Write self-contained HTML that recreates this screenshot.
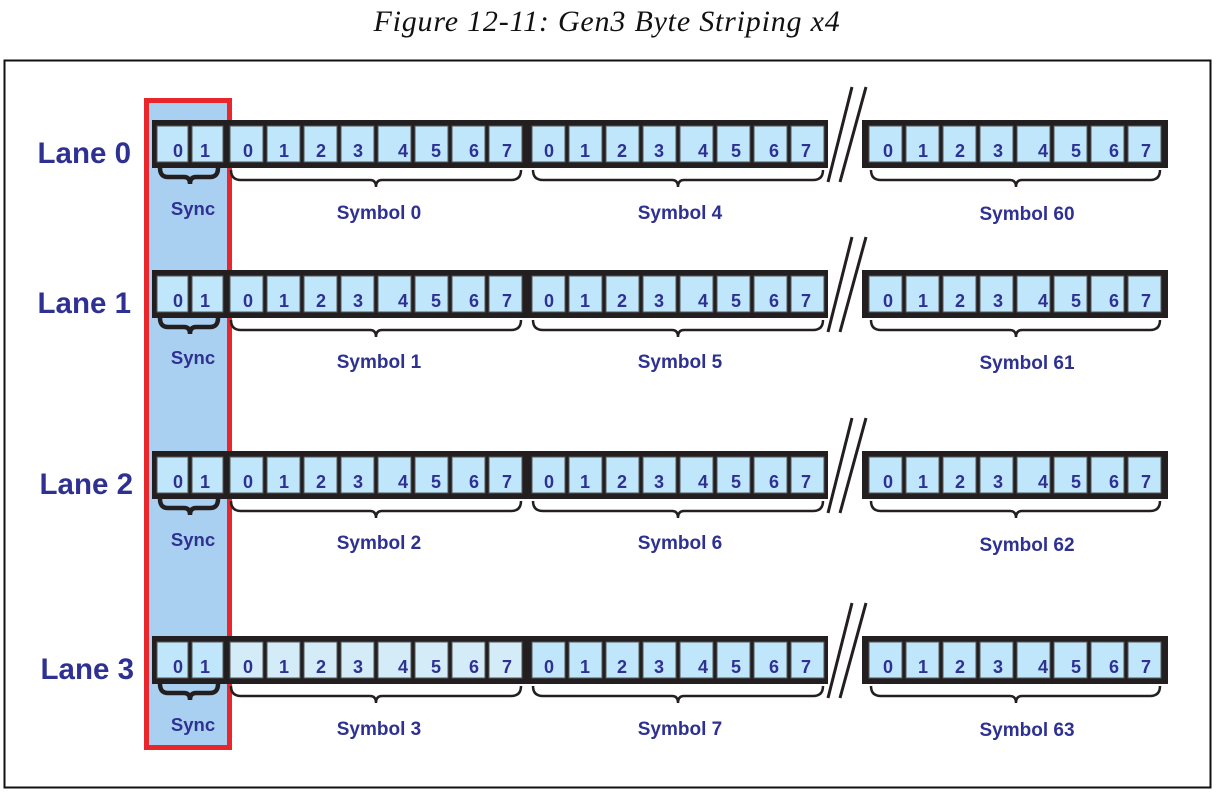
<!DOCTYPE html>
<html><head><meta charset="utf-8"><style>
html,body{margin:0;padding:0;background:#fff;}
svg{display:block;}
.t{font-family:"Liberation Sans",sans-serif;font-weight:bold;fill:#2e3192;}
</style></head><body>
<svg width="1216" height="792" viewBox="0 0 1216 792" xmlns="http://www.w3.org/2000/svg">
<defs>
<g id="bar">
<rect x="152" y="120" width="676" height="48" fill="#231f20"/>
<rect x="862" y="120" width="306" height="48" fill="#231f20"/>
<g fill="#bfe6fb" stroke="#555" stroke-width="1">
<rect x="157" y="126" width="31" height="36"/><rect x="192" y="126" width="31" height="36"/>
<rect x="230" y="126" width="33" height="36"/><rect x="267" y="126" width="33" height="36"/><rect x="304" y="126" width="33" height="36"/><rect x="341" y="126" width="33" height="36"/><rect x="378" y="126" width="33" height="36"/><rect x="415" y="126" width="33" height="36"/><rect x="452" y="126" width="33" height="36"/><rect x="489" y="126" width="33" height="36"/>
<rect x="532" y="126" width="33" height="36"/><rect x="569" y="126" width="33" height="36"/><rect x="606" y="126" width="33" height="36"/><rect x="643" y="126" width="33" height="36"/><rect x="680" y="126" width="33" height="36"/><rect x="717" y="126" width="33" height="36"/><rect x="754" y="126" width="33" height="36"/><rect x="791" y="126" width="33" height="36"/>
<rect x="869" y="126" width="33" height="36"/><rect x="906" y="126" width="33" height="36"/><rect x="943" y="126" width="33" height="36"/><rect x="980" y="126" width="33" height="36"/><rect x="1017" y="126" width="33" height="36"/><rect x="1054" y="126" width="33" height="36"/><rect x="1091" y="126" width="33" height="36"/><rect x="1128" y="126" width="33" height="36"/>
</g>
<g fill="none" stroke="#231f20" stroke-width="2.5">
<path d="M231 170 Q231 180 241 180 L370 180 Q376 180 376 187 Q376 180 382 180 L511 180 Q521 180 521 170"/>
<path d="M533 170 Q533 180 543 180 L672 180 Q678 180 678 187 Q678 180 684 180 L813 180 Q823 180 823 170"/>
<path d="M871 170 Q871 180 881 180 L1010 180 Q1016 180 1016 187 Q1016 180 1022 180 L1150 180 Q1160 180 1160 170"/>
</g>
<path d="M160 168 Q160 177 168 177 L184 177 Q190 177 190 184 Q190 177 196 177 L210 177 Q218 177 218 168" fill="none" stroke="#231f20" stroke-width="4.5"/>
<g stroke="#231f20" stroke-width="3"><line x1="852" y1="87" x2="828" y2="182"/><line x1="866" y1="87" x2="840" y2="182"/></g>
</g>
</defs>
<text x="607" y="31" text-anchor="middle" font-family="'Liberation Serif',serif" font-style="italic" font-size="30" letter-spacing="0.8" fill="#111">Figure 12-11: Gen3 Byte Striping x4</text>
<rect x="4.5" y="60.5" width="1206" height="727" fill="none" stroke="#111" stroke-width="2"/>
<rect x="146.5" y="100.5" width="83" height="647" fill="#a9d0f0" stroke="#e8262b" stroke-width="5"/>

<g transform="translate(0,0)">
<use href="#bar"/>
<text class="t" font-size="18" text-anchor="middle" y="157" x="178 205 248 284 321 358 403 436 474 507 549 585 622 659 703 736 774 806 888 923 960 998 1043 1076 1114 1146">01012345670123456701234567</text>
<text class="t" font-size="29.5" x="131" y="163" text-anchor="end">Lane 0</text>
<text class="t" font-size="18.5" x="193" y="215" text-anchor="middle">Sync</text>
<text class="t" font-size="19" x="379" y="219" text-anchor="middle">Symbol 0</text>
<text class="t" font-size="19" x="680" y="219" text-anchor="middle">Symbol 4</text>
<text class="t" font-size="19" x="1027" y="220" text-anchor="middle">Symbol 60</text>
</g>
<g transform="translate(0,150)">
<use href="#bar"/>
<text class="t" font-size="18" text-anchor="middle" y="157" x="178 205 248 284 321 358 403 436 474 507 549 585 622 659 703 736 774 806 888 923 960 998 1043 1076 1114 1146">01012345670123456701234567</text>
<text class="t" font-size="29.5" x="131" y="163" text-anchor="end">Lane 1</text>
<text class="t" font-size="18.5" x="193" y="214" text-anchor="middle">Sync</text>
<text class="t" font-size="19" x="379" y="218" text-anchor="middle">Symbol 1</text>
<text class="t" font-size="19" x="680" y="218" text-anchor="middle">Symbol 5</text>
<text class="t" font-size="19" x="1027" y="219" text-anchor="middle">Symbol 61</text>
</g>
<g transform="translate(0,331)">
<use href="#bar"/>
<text class="t" font-size="18" text-anchor="middle" y="157" x="178 205 248 284 321 358 403 436 474 507 549 585 622 659 703 736 774 806 888 923 960 998 1043 1076 1114 1146">01012345670123456701234567</text>
<text class="t" font-size="29.5" x="133" y="163" text-anchor="end">Lane 2</text>
<text class="t" font-size="18.5" x="193" y="215" text-anchor="middle">Sync</text>
<text class="t" font-size="19" x="379" y="218" text-anchor="middle">Symbol 2</text>
<text class="t" font-size="19" x="680" y="218" text-anchor="middle">Symbol 6</text>
<text class="t" font-size="19" x="1027" y="220" text-anchor="middle">Symbol 62</text>
</g>
<g transform="translate(0,516)">
<use href="#bar"/>
<g fill="#d3ecf8" stroke="#555" stroke-width="1">
<rect x="230" y="126" width="33" height="36"/><rect x="267" y="126" width="33" height="36"/><rect x="304" y="126" width="33" height="36"/><rect x="341" y="126" width="33" height="36"/><rect x="378" y="126" width="33" height="36"/><rect x="415" y="126" width="33" height="36"/><rect x="452" y="126" width="33" height="36"/><rect x="489" y="126" width="33" height="36"/>
</g>
<text class="t" font-size="18" text-anchor="middle" y="157" x="178 205 248 284 321 358 403 436 474 507 549 585 622 659 703 736 774 806 888 923 960 998 1043 1076 1114 1146">01012345670123456701234567</text>
<text class="t" font-size="29.5" x="134" y="163" text-anchor="end">Lane 3</text>
<text class="t" font-size="18.5" x="193" y="215" text-anchor="middle">Sync</text>
<text class="t" font-size="19" x="379" y="219" text-anchor="middle">Symbol 3</text>
<text class="t" font-size="19" x="680" y="219" text-anchor="middle">Symbol 7</text>
<text class="t" font-size="19" x="1027" y="220" text-anchor="middle">Symbol 63</text>
</g>
</svg>
</body></html>
